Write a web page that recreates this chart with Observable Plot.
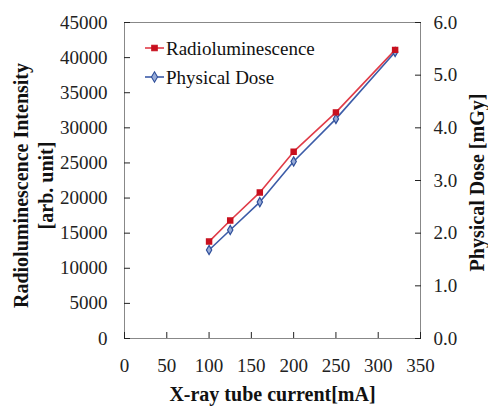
<!DOCTYPE html>
<html><head><meta charset="utf-8">
<script src="https://cdn.jsdelivr.net/npm/d3@7"></script>
<script src="https://cdn.jsdelivr.net/npm/@observablehq/plot@0.6"></script>
<style>
body{margin:0;background:#fff}
svg{font-family:"Liberation Serif","Times New Roman",serif}
</style>
</head><body><div id="chart"></div>
<script>
const current = [100, 125, 160, 200, 250, 320];
const intensity = [13800, 16800, 20800, 26600, 32200, 41100];
const dose = [1.68, 2.06, 2.59, 3.36, 4.17, 5.44];
const seriesNames = ["Radioluminescence", "Physical Dose"];
const xTicks = [0, 50, 100, 150, 200, 250, 300, 350];
const leftTicks = [0, 5000, 10000, 15000, 20000, 25000, 30000, 35000, 40000, 45000];
const rightTicks = [0, 1, 2, 3, 4, 5, 6];
const titles = {
  x: "X-ray tube current[mA]",
  yLeft: "Radioluminescence Intensity\n[arb. unit]",
  yRight: "Physical Dose [mGy]"
};

const k = 45000 / 6; // right-axis (dose) to left-axis units
const redData = current.map((c, i) => ({x: c, y: intensity[i]}));
const blueData = current.map((c, i) => ({x: c, y: dose[i] * k}));

const RED = "#e03c48", RED_M = "#c8101e";
const BLUE = "#3c5ca8", BLUE_M = "#2f4f9a", BLUE_F = "#98acd8";

const plot = Plot.plot({
  width: 488, height: 412,
  marginLeft: 124, marginRight: 68, marginTop: 22, marginBottom: 74,
  style: {fontFamily: "'Liberation Serif','Times New Roman',serif", fontSize: "19px", color: "#222", background: "#fff"},
  x: {domain: [0, 350]},
  y: {domain: [0, 45000]},
  marks: [
    Plot.frame({stroke: "#888"}),
    Plot.axisX({ticks: xTicks, tickSize: -6, tickPadding: 26, tickFormat: d => String(d), label: null, fontSize: 19}),
    Plot.axisY({anchor: "left", ticks: leftTicks, tickSize: -6, tickPadding: 23, tickFormat: d => String(d), label: null, fontSize: 19}),
    Plot.axisY({anchor: "right", ticks: rightTicks.map(d => d * k), tickSize: -6, tickPadding: 19, tickFormat: d => (d / k).toFixed(1), label: null, fontSize: 19}),
    Plot.line(redData, {x: "x", y: "y", stroke: RED, strokeWidth: 1.6}),
    Plot.line(blueData, {x: "x", y: "y", stroke: BLUE, strokeWidth: 1.6}),
    Plot.dot(blueData, {x: "x", y: "y", symbol: "diamond", r: 2.8, fill: BLUE_F, stroke: BLUE_M, strokeWidth: 1.2}),
    Plot.dot(redData, {x: "x", y: "y", symbol: "square", r: 2.8, fill: RED_M, stroke: RED_M}),
    Plot.text([titles.x], {frameAnchor: "bottom", dy: 56, textAnchor: "middle", lineAnchor: "middle", fontWeight: "bold", fontSize: 20, fill: "#111"}),
    Plot.text([titles.yLeft], {frameAnchor: "left", dx: -92, dy: 5, rotate: -90, textAnchor: "middle", lineAnchor: "middle", lineHeight: 1.25, fontWeight: "bold", fontSize: 20, fill: "#111"}),
    Plot.text([titles.yRight], {frameAnchor: "right", dx: 57, dy: 2, rotate: -90, textAnchor: "middle", lineAnchor: "middle", fontWeight: "bold", fontSize: 20, fill: "#111"})
  ]
});
document.getElementById("chart").appendChild(plot);

// legend inside the plot area (top-left)
const svg = d3.select(plot);
const lg = svg.append("g").attr("font-size", 19).attr("fill", "#111").attr("text-anchor", "start");
const items = [
  {name: seriesNames[0], color: RED, mc: RED_M, sym: d3.symbolSquare, fill: RED_M, y: 48},
  {name: seriesNames[1], color: BLUE, mc: BLUE_M, sym: d3.symbolDiamond, fill: BLUE_F, y: 77}
];
items.forEach(it => {
  lg.append("line").attr("x1", 145).attr("x2", 164).attr("y1", it.y).attr("y2", it.y)
    .attr("stroke", it.color).attr("stroke-width", 1.6);
  lg.append("path").attr("d", d3.symbol(it.sym, it.sym === d3.symbolSquare ? 30 : 32)())
    .attr("transform", `translate(154.5,${it.y})`).attr("fill", it.fill).attr("stroke", it.mc).attr("stroke-width", 1.1);
  lg.append("text").attr("x", 166).attr("y", it.y).attr("dy", "0.35em").text(it.name);
});
</script>
</body></html>
